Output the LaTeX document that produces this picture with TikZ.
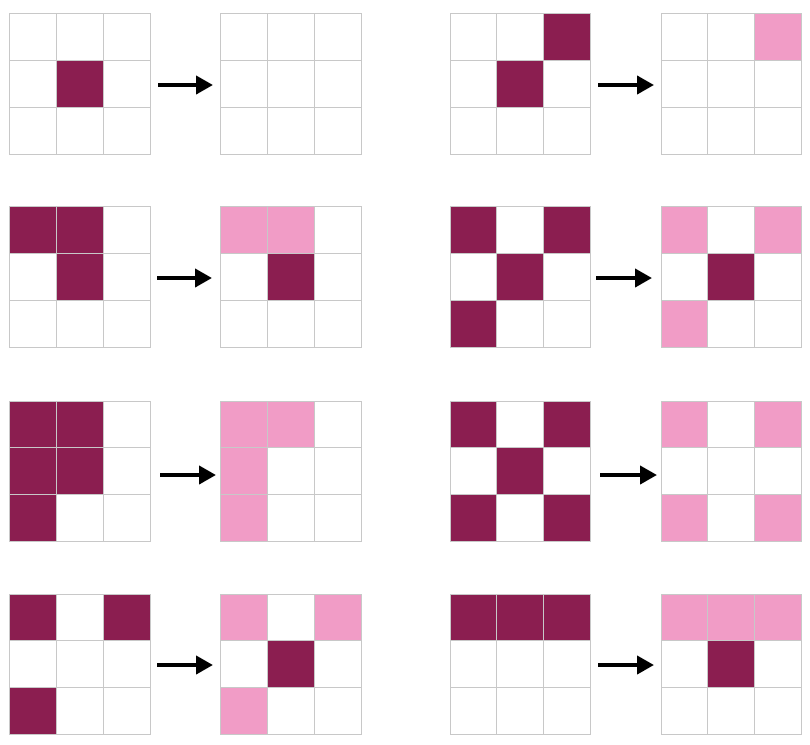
\documentclass[tikz,border=0pt]{standalone}
\usetikzlibrary{arrows.meta}

\definecolor{gridgray}{HTML}{C8C8C8}
\definecolor{plum}{HTML}{8B1E50}
\definecolor{softpink}{HTML}{F19CC6}

\tikzset{
  cell/.style={rectangle,draw=gridgray,line width=1pt,fill=white,minimum width=46.67pt,minimum height=46.67pt,inner sep=0pt,outer sep=0pt},
  alive/.style={cell,fill=plum},
  faded/.style={cell,fill=softpink},
  turn/.style={-{Triangle[length=17pt,width=18pt]},line width=4pt}
}

% 3x3 board of white cells, top left corner at (#2,#3)
\newcommand{\board}[3]{%
  \foreach \r in {0,1,2}
    \foreach \c in {0,1,2}
      \node[cell] (#1-\r\c) at ({#2+23.33+46.67*\c},{#3+23.33+46.67*\r}) {};
}

\begin{document}
\begin{tikzpicture}[x=1pt,y=-1pt]
    \useasboundingbox (0,0) rectangle (810,744);

    % row 1
    \board{b1}{10}{14}
    \node[alive] (b1-11d) at (b1-11) {};
    \board{b2}{221}{14}

    \board{b3}{450}{14}
    \foreach \k in {02,11} \node[alive] (b3-\k d) at (b3-\k) {};
    \board{b4}{661}{14}
    \node[faded] (b4-02p) at (b4-02) {};

    % row 2
    \board{b5}{10}{207}
    \foreach \k in {00,01,11} \node[alive] (b5-\k d) at (b5-\k) {};
    \board{b6}{221}{207}
    \foreach \k in {00,01} \node[faded] (b6-\k p) at (b6-\k) {};
    \node[alive] (b6-11d) at (b6-11) {};

    \board{b7}{450}{207}
    \foreach \k in {00,02,11,20} \node[alive] (b7-\k d) at (b7-\k) {};
    \board{b8}{661}{207}
    \foreach \k in {00,02,20} \node[faded] (b8-\k p) at (b8-\k) {};
    \node[alive] (b8-11d) at (b8-11) {};

    % row 3
    \board{b9}{10}{401}
    \foreach \k in {00,01,10,11,20} \node[alive] (b9-\k d) at (b9-\k) {};
    \board{b10}{221}{401}
    \foreach \k in {00,01,10,20} \node[faded] (b10-\k p) at (b10-\k) {};

    \board{b11}{450}{401}
    \foreach \k in {00,02,11,20,22} \node[alive] (b11-\k d) at (b11-\k) {};
    \board{b12}{661}{401}
    \foreach \k in {00,02,20,22} \node[faded] (b12-\k p) at (b12-\k) {};

    % row 4
    \board{b13}{10}{594}
    \foreach \k in {00,02,20} \node[alive] (b13-\k d) at (b13-\k) {};
    \board{b14}{221}{594}
    \foreach \k in {00,02,20} \node[faded] (b14-\k p) at (b14-\k) {};
    \node[alive] (b14-11d) at (b14-11) {};

    \board{b15}{450}{594}
    \foreach \k in {00,01,02} \node[alive] (b15-\k d) at (b15-\k) {};
    \board{b16}{661}{594}
    \foreach \k in {00,01,02} \node[faded] (b16-\k p) at (b16-\k) {};
    \node[alive] (b16-11d) at (b16-11) {};

    % arrows
    \coordinate (a1s) at (158,85);  \coordinate (a1e) at (213,85);
    \coordinate (a2s) at (598,85);  \coordinate (a2e) at (654,85);
    \coordinate (a3s) at (157,278); \coordinate (a3e) at (212,278);
    \coordinate (a4s) at (596,278); \coordinate (a4e) at (652,278);
    \coordinate (a5s) at (160,475); \coordinate (a5e) at (216,475);
    \coordinate (a6s) at (600,475); \coordinate (a6e) at (657,475);
    \coordinate (a7s) at (157,665); \coordinate (a7e) at (213,665);
    \coordinate (a8s) at (598,665); \coordinate (a8e) at (654,665);
    \foreach \i in {1,...,8}
        \draw[turn] (a\i s) -- (a\i e);
\end{tikzpicture}
\end{document}
